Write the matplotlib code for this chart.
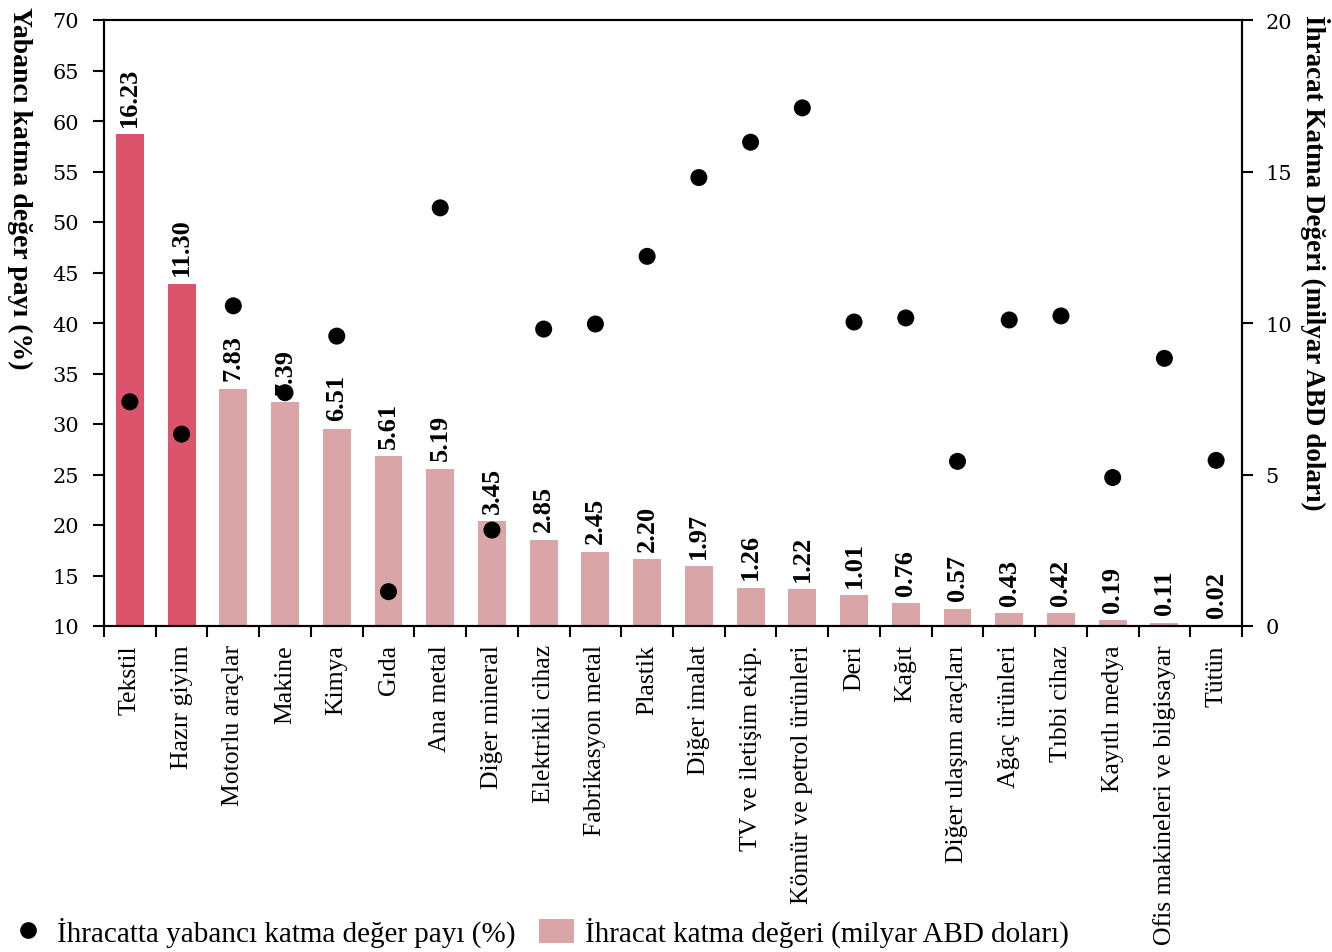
import matplotlib
matplotlib.use("Agg")
import matplotlib.pyplot as plt
from matplotlib.lines import Line2D
from matplotlib.patches import Patch
from matplotlib.ticker import FixedLocator, NullFormatter

categories = ["Tekstil", "Hazır giyim", "Motorlu araçlar", "Makine", "Kimya", "Gıda",
              "Ana metal", "Diğer mineral", "Elektrikli cihaz", "Fabrikasyon metal",
              "Plastik", "Diğer imalat", "TV ve iletişim ekip.", "Kömür ve petrol ürünleri",
              "Deri", "Kağıt", "Diğer ulaşım araçları", "Ağaç ürünleri", "Tıbbi cihaz",
              "Kayıtlı medya", "Ofis makineleri ve bilgisayar", "Tütün"]
value_added = [16.23, 11.30, 7.83, 7.39, 6.51, 5.61, 5.19, 3.45, 2.85, 2.45, 2.20,
               1.97, 1.26, 1.22, 1.01, 0.76, 0.57, 0.43, 0.42, 0.19, 0.11, 0.02]
foreign_share = [32.2, 29.0, 41.7, 33.1, 38.7, 13.4, 51.4, 19.5, 39.4, 39.9, 46.6,
                 54.4, 57.9, 61.3, 40.1, 40.5, 26.3, 40.3, 40.7, 24.7, 36.5, 26.4]
highlight = [True, True] + [False] * 20

dark_color = "#DC546C"
light_color = "#D9A5A6"
serif = ["Liberation Serif", "DejaVu Serif"]

plt.rcParams["font.family"] = serif

fig = plt.figure(figsize=(13.32, 9.53), dpi=100)
ax = fig.add_axes([104 / 1332, 1 - 627 / 953, (1242 - 104) / 1332, (627 - 21) / 953])
ax2 = ax.twinx()

x = list(range(len(categories)))
colors = [dark_color if h else light_color for h in highlight]
bars = ax2.bar(x, value_added, width=0.54, color=colors, zorder=1)
for xi, v in zip(x, value_added):
    ax2.annotate(f"{v:.2f}", xy=(xi, v), xytext=(0, 6), textcoords="offset points",
                 rotation=90, ha="center", va="bottom", fontsize=19,
                 fontweight="bold", family=serif)

ax.set_zorder(ax2.get_zorder() + 1)
ax.patch.set_visible(False)
ax.scatter(x, foreign_share, s=150, color="black", zorder=5, edgecolors="none")

ax.set_xlim(-0.5, len(categories) - 0.5)
ax.set_ylim(10, 70)
ax.set_yticks(range(10, 71, 5))
ax2.set_ylim(0, 20)
ax2.set_yticks([0, 5, 10, 15, 20])

ax.set_xticks(x)
ax.set_xticklabels(categories, rotation=90, fontsize=18.5, family=serif)
ax.xaxis.set_minor_locator(FixedLocator([i - 0.5 for i in range(len(categories) + 1)]))
ax.xaxis.set_minor_formatter(NullFormatter())
ax.tick_params(axis="x", which="major", length=0, pad=13)
ax.tick_params(axis="x", which="minor", length=8, width=1.5, direction="out")
ax.tick_params(axis="y", length=8, width=1.5, direction="out", labelsize=15, pad=10)
ax2.tick_params(axis="y", length=8, width=1.5, direction="out", labelsize=15, pad=9)
for lab in ax.get_yticklabels() + ax2.get_yticklabels():
    lab.set_family(["DejaVu Serif"])

for a in (ax, ax2):
    for sp in a.spines.values():
        sp.set_linewidth(1.5)
        sp.set_color("black")

ax.set_ylabel("Yabancı katma değer payı (%)", fontsize=20, fontweight="bold",
              rotation=270, family=serif)
ax.yaxis.label.set_va("center")
ax.yaxis.set_label_coords(20 / 1332, 1 - 188 / 953, transform=fig.transFigure)
ax2.set_ylabel("İhracat Katma Değeri (milyar ABD doları)", fontsize=19.5, fontweight="bold",
               rotation=270, family=serif)
ax2.yaxis.label.set_va("center")
ax2.yaxis.set_label_coords(1315 / 1332, 1 - 263 / 953, transform=fig.transFigure)

handles = [
    Line2D([], [], marker="o", linestyle="none", color="black", markersize=11),
    Patch(facecolor=light_color, edgecolor="none"),
]
labels = ["İhracatta yabancı katma değer payı (%)", "İhracat katma değeri (milyar ABD doları)"]
fig.legend(handles, labels, loc="center left", bbox_to_anchor=(10 / 1332, 1 - 933 / 953),
           ncol=2, frameon=False, handlelength=1.2, handleheight=0.9,
           handletextpad=0.4, columnspacing=0.8, borderpad=0, borderaxespad=0,
           prop={"family": serif, "size": 21})

fig.savefig("out.png", dpi=100)
